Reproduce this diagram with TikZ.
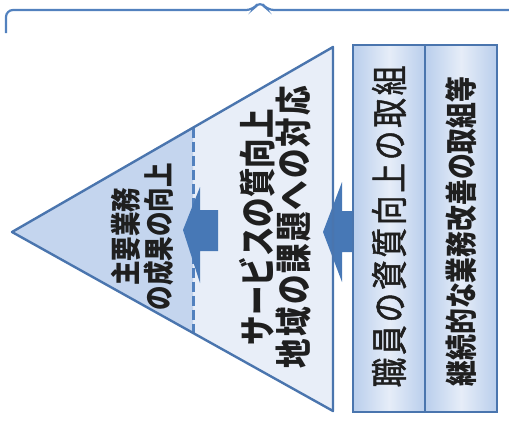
\documentclass[tikz,border=0pt]{standalone}
\usepackage{fontspec}
\newfontfamily\jp{Noto Sans CJK JP}
\usetikzlibrary{calc}
\definecolor{edgeblue}{HTML}{4A75AE}
\definecolor{deepblue}{HTML}{C4D5EE}
\definecolor{paleblue}{HTML}{E8EEF8}
\definecolor{arrowblue}{HTML}{4778B6}
\definecolor{boxside}{HTML}{B9CEEC}
\definecolor{boxmid}{HTML}{E6EDF8}
\definecolor{braceblue}{HTML}{5281BE}
\begin{document}
\begin{tikzpicture}[x=1pt, y=-1pt, thick,
  main/.style = {draw=edgeblue, line width=2pt, minimum width=72pt, minimum height=367pt, inner sep=0pt, left color=boxside, right color=boxside, middle color=boxmid},
  txt/.style = {rotate=90, yscale=1.25, inner sep=0pt, align=center, text=black!88}]
	\useasboundingbox (0,0) rectangle (509,421);
	\draw[braceblue, line width=2.2pt, rounded corners=7pt] (6,33) |- (253,10) -- (260,1) -- (267,10) -- (509,10);

	\coordinate (apex) at (12,232);
	\coordinate (tr) at (333,47);
	\coordinate (br) at (333,411);
	\coordinate (dt) at ($(apex)!0.564!(tr)$);
	\coordinate (db) at ($(apex)!0.564!(br)$);
	\fill[paleblue] (dt) -- (tr) -- (br) -- (db) -- cycle;
	\fill[deepblue] (apex) -- (dt) -- (db) -- cycle;
	\draw[braceblue, line width=3pt, dash pattern=on 10pt off 4pt] (dt) -- (db);
	\fill[arrowblue] (183,230) -- (200,187) -- (200,210) -- (218,210) -- (218,251) -- (200,251) -- (200,283) -- cycle;
	\fill[arrowblue] (323,232) -- (342,182) -- (342,211) -- (356,211) -- (356,252) -- (342,252) -- (342,282) -- cycle;
	\draw[edgeblue, line width=2.4pt, line join=round] (apex) -- (tr) -- (br) -- cycle;

	\node[main] (1) at (389,228.5) {};
	\node[main] (2) at (461,228.5) {};

	\node[txt, font=\jp\bfseries\fontsize{24.5}{26.4}\selectfont] (3) at (142.5,236.5) {主要業務\\の成果の向上};
	\node[txt, font=\jp\bfseries\fontsize{29.5}{28.8}\selectfont] (4) at (275,227) {サービスの質向上\\{\addfontfeature{LetterSpace=7}地域の課題への対応}};
	\node[txt, font=\jp\fontsize{29.5}{30}\selectfont\addfontfeature{LetterSpace=10,FakeBold=1.5}] (5) at ($(1)+(0,-2)$) {職員の資質向上の取組};
	\node[txt, font=\jp\bfseries\fontsize{25.8}{30}\selectfont] (6) at ($(2)+(0,3)$) {継続的な業務改善の取組等};
\end{tikzpicture}
\end{document}
